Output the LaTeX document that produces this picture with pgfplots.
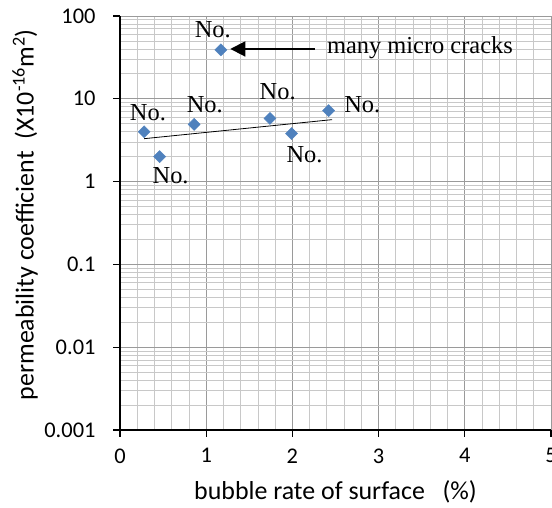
\documentclass[border=0pt]{standalone}
\usepackage{fontspec}
\setmainfont{Carlito}
\newfontfamily\tnr{Liberation Serif}
\usepackage{pgfplots}
\pgfplotsset{compat=1.18}
\usetikzlibrary{arrows.meta}
\definecolor{ptblue}{HTML}{4F81BD}
\definecolor{gmaj}{HTML}{9A9A9A}
\definecolor{gmin}{HTML}{C8C8C8}

\begin{document}
\begin{tikzpicture}
\useasboundingbox (0,0) rectangle (552bp,508bp);
\begin{axis}[
  at={(120bp,78bp)}, anchor=south west,
  scale only axis, width=431bp, height=414bp,
  xmin=0, xmax=5, ymode=log, ymin=0.001, ymax=100,
  axis x line*=bottom, axis y line*=left,
  axis line style={black, line width=1.6bp, -},
  xtick={0,1,2,3,4,5}, minor x tick num=4,
  ytick={0.001,0.01,0.1,1,10,100},
  yticklabels={0.001,0.01,0.1,1,10,100},
  minor ytick={0.002,0.003,0.004,0.005,0.006,0.007,0.008,0.009,
    0.02,0.03,0.04,0.05,0.06,0.07,0.08,0.09,
    0.2,0.3,0.4,0.5,0.6,0.7,0.8,0.9,
    2,3,4,5,6,7,8,9,20,30,40,50,60,70,80,90},
  grid=both,
  major grid style={gmaj, line width=0.8bp},
  minor grid style={gmin, line width=0.8bp},
  tick align=outside, major tick length=7bp, minor tick length=0pt,
  tick style={black, line width=1.2bp},
  tick label style={font=\fontsize{22.5}{22.5}\selectfont},
  xticklabel style={yshift=-8bp},
  yticklabel style={xshift=-14bp},
  /pgf/number format/assume math mode=true,
  xlabel={bubble rate of surface\ \ \ (\%)},
  ylabel={permeability coefficient\ \ (X10\textsuperscript{-16}m\textsuperscript{2})},
  label style={font=\fontsize{26}{26}\selectfont},
  xlabel style={at={(axis description cs:0.5,-0.15)}, anchor=center},
  ylabel style={at={(axis description cs:-0.22,0.52)}, anchor=center},
  clip=false,
]
% trend line
\addplot[black, line width=0.8bp, mark=none] coordinates {(0.28,3.3) (2.46,5.6)};
% measured specimens
\addplot[only marks, mark=square*, mark size=4.3bp,
  mark options={rotate=45, fill=ptblue, draw=ptblue}] coordinates {
  (0.28,4.0) (0.46,2.0) (0.86,4.9) (1.17,39) (1.74,5.8) (1.99,3.8) (2.42,7.2)
};
\begin{scope}[every node/.style={font=\tnr\fontsize{24.5}{24.5}\selectfont}]
\node at (axis cs:0.324,6.82) {No.};
\node at (axis cs:0.587,1.17) {No.};
\node at (axis cs:0.984,8.5) {No.};
\node at (axis cs:1.076,68) {No.};
\node at (axis cs:1.829,12.2) {No.};
\node at (axis cs:2.141,2.13) {No.};
\node at (axis cs:2.81,8.5) {No.};
\node[anchor=west, inner sep=0pt] at (axis cs:2.40,41) {many micro cracks};
\end{scope}
\draw[line width=1.8bp, -{Triangle[length=15bp,width=15bp]}]
  (axis cs:2.26,40) -- (axis cs:1.28,40);
\end{axis}
\end{tikzpicture}
\end{document}
